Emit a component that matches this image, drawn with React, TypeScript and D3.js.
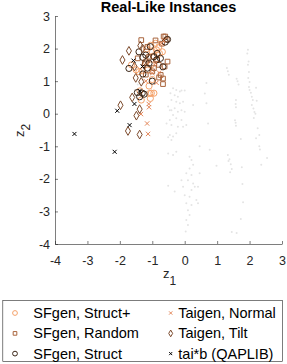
import * as d3 from "d3";
import { useEffect, useRef } from "react";

const W = 287;
const H = 364;

// background instances (light gray dots) [z1, z2]
const otherPts = [
  [1.95, 1.96], [1.93, 1.85], [1.97, 1.6], [1.95, 1.5], [1.98, 1.28], [1.96, 1.1], [2.0, 0.97],
  [1.98, 0.82], [2.0, 0.73], [2.04, 0.64], [2.07, 0.52], [2.1, 0.42], [2.07, 0.27], [2.12, 0.16],
  [2.15, 0.05], [2.13, -0.13], [2.2, -0.75], [2.25, -0.45], [2.3, -0.65], [2.3, -1.0], [2.32, -1.1],
  [2.54, -1.36], [2.36, -1.57], [1.3, 1.4], [1.33, 1.3], [1.36, 1.2], [1.6, 1.07], [1.63, 1.0],
  [1.66, 0.9], [1.58, 0.42], [1.57, 0.3], [1.58, 0.2], [1.55, -0.2], [1.57, -0.28], [1.58, -0.37],
  [1.73, -0.78], [1.33, -1.27], [1.38, -1.4], [1.42, -1.55], [1.45, -1.7], [1.4, -1.8], [1.76, -1.64],
  [1.78, -2.16], [1.8, -2.72], [1.73, -3.23], [1.45, -3.63], [1.6, -3.66], [0.98, -1.6], [0.77, -1.11],
  [0.72, -0.3], [0.46, -1.0], [0.67, 0.94], [0.62, 0.62], [0.67, 0.32], [0.26, 0.27], [0.0, 0.71],
  [-0.36, 0.78], [-0.26, 0.73], [-0.15, 0.68], [-0.1, 0.71], [-0.44, 0.63], [-0.31, 0.57], [-0.21, 0.52],
  [-0.41, 0.42], [-0.26, 0.37], [-0.15, 0.32], [-0.05, 0.37], [-0.51, 0.22], [-0.46, 0.11], [-0.31, 0.17],
  [-0.21, 0.06], [-0.1, 0.11], [0.0, 0.06], [-0.36, -0.04], [-0.26, -0.14], [-0.1, -0.19], [-0.46, -0.19],
  [-0.56, -0.3], [-0.41, -0.35], [-0.21, -0.4], [-0.05, -0.4], [0.05, -0.35], [-0.46, -0.65], [-0.51, -0.72],
  [-0.36, -0.7], [-0.26, -0.6], [-0.41, -0.81], [0.15, -1.32], [0.21, -1.42], [0.26, -1.57], [0.15, -1.68],
  [0.05, -1.83], [0.21, -1.88], [0.1, -2.04], [0.26, -2.14], [0.31, -2.24], [0.21, -2.34], [0.0, -2.5],
  [0.15, -2.55], [0.36, -2.65], [0.05, -2.75], [0.21, -2.8], [0.41, -2.75], [0.1, -2.96], [0.15, -3.11],
  [0.05, -3.26], [0.1, -3.42], [0.03, -3.62], [-0.05, -2.24], [0.46, -1.83], [0.41, -2.24], [-0.51, -1.22],
  [-0.36, -1.27], [-0.26, -1.17], [-0.51, -2.21], [-0.31, -2.39], [-0.1, -2.04], [-0.41, 0.11], [-1.54, 0.73],
  [-1.45, 0.9], [-1.5, 0.55], [2.2, 0.8], [2.22, 0.4], [2.18, 0.0], [1.35, -1.45],
];

const structPlus = [
  [-1.03, 0.63], [-0.95, 0.63], [-1.08, 0.62], [-1.06, 0.47], [-1.34, 0.42], [-1.41, 1.29],
  [-1.64, 1.5], [-1.5, 1.35], [-1.3, 1.32], [-0.9, 2.16], [-0.87, 1.96], [-1.0, 1.9], [-1.18, 1.99],
  [-1.03, 1.5], [-0.96, 1.77], [-0.69, 1.9], [-1.14, 1.34], [-0.8, 2.05], [-1.1, 0.85], [-1.0, 1.05],
  [-1.38, 0.7], [-0.78, 1.85], [-1.2, 1.6], [-1.05, 2.1],
];
const random = [
  [-1.34, 2.26], [-0.65, 2.37], [-0.6, 2.37], [-0.53, 1.6], [-0.67, 0.91], [-0.67, 1.08], [-0.79, 1.11],
  [-0.85, 1.67], [-1.23, 1.55], [-0.74, 1.19], [-0.55, 2.28], [-0.7, 2.15], [-0.95, 1.4], [-1.1, 1.75],
  [-0.8, 1.5], [-1.2, 1.2], [-0.9, 2.25], [-1.45, 1.7], [-0.62, 1.45], [-1.0, 1.3], [-1.15, 2.05],
];
const struct = [
  [-0.53, 2.28], [-1.06, 2.06], [-1.41, 1.9], [-1.72, 1.39], [-1.29, 1.73], [-0.87, 1.65], [-0.67, 1.44],
  [-1.29, 1.22], [-1.0, 1.0], [-1.46, 0.65], [-1.31, 0.63], [-1.39, 0.52], [-1.2, 1.8], [-0.95, 1.75],
  [-1.1, 1.55], [-0.85, 1.85], [-0.6, 2.2], [-1.25, 0.6], [-1.15, 1.4], [-0.75, 1.7],
];
const taigenNormal = [
  [-1.11, 0.3], [-1.1, 0.2], [-1.16, -0.3], [-1.13, -0.62], [-1.35, -0.01], [-0.79, 1.26],
  [-0.72, 2.16], [-0.87, 0.95], [-0.65, 2.25], [-1.0, 1.25], [-0.9, 1.55], [-1.2, 1.0],
];
const taigenTilt = [
  [-1.72, 1.93], [-1.92, 1.65], [-1.37, 2.09], [-1.51, 1.1], [-1.34, 0.98], [-1.62, 0.5], [-1.98, 0.26],
  [-1.39, 0.14], [-1.49, -0.06], [-1.75, -0.53], [-1.39, -0.64], [-1.55, 1.45], [-1.25, 1.5],
  [-1.1, 1.7], [-1.3, 2.0],
];
const taib = [
  [-3.4, -0.62], [-2.16, -1.17], [-1.7, -0.35], [-2.08, 0.09], [-1.55, 0.3], [-1.58, 1.63],
  [-1.39, 0.7], [-1.3, 1.45],
];

const ticks = [-4, -3, -2, -1, 0, 1, 2, 3];

const series = [
  { name: "SFgen, Struct+", data: structPlus, symbol: d3.symbolCircle, size: 30, color: "#f5a26a" },
  { name: "SFgen, Random", data: random, symbol: d3.symbolSquare, size: 22, color: "#a9643c" },
  { name: "SFgen, Struct", data: struct, symbol: d3.symbolCircle, size: 30, color: "#3a2516" },
  { name: "Taigen, Normal", data: taigenNormal, symbol: d3.symbolX, size: 14, color: "#e3875a" },
  { name: "Taigen, Tilt", data: taigenTilt, symbol: d3.symbolDiamond, size: 22, color: "#7c4a2c" },
  { name: "tai*b (QAPLIB)", data: taib, symbol: d3.symbolX, size: 12, color: "#000000" },
];

const font = "'Liberation Sans', Arial, Helvetica, sans-serif";

export default function App() {
  const xRef = useRef(null);
  const yRef = useRef(null);

  const x = d3.scaleLinear().domain([-4, 3]).range([55, 282]);
  const y = d3.scaleLinear().domain([-4, 3]).range([244, 16]);

  useEffect(() => {
    const xAxis = d3
      .axisBottom(x)
      .tickValues(ticks)
      .tickSizeInner(-3)
      .tickSizeOuter(0)
      .tickPadding(12)
      .tickFormat((d) => String(d));
    const yAxis = d3
      .axisLeft(y)
      .tickValues(ticks)
      .tickSizeInner(-3)
      .tickSizeOuter(0)
      .tickPadding(5)
      .tickFormat((d) => String(d));
    for (const [ref, ax] of [[xRef, xAxis], [yRef, yAxis]]) {
      const g = d3.select(ref.current);
      g.call(ax);
      g.attr("font-family", font).attr("font-size", 12.5);
      g.selectAll("path, line").attr("stroke", "#262626").attr("stroke-width", 0.6);
      g.selectAll("text").attr("fill", "#262626");
    }
  }, []);

  const legendRows = [318, 338.4, 358.6];

  return (
    <svg width={W} height={H} style={{ position: "absolute", left: 0, top: 0, background: "#fff" }}>
      <g>
        {otherPts.map((p, i) => (
          <circle key={i} cx={x(p[0])} cy={y(p[1])} r={1} fill="#e4e4e4" />
        ))}
      </g>
      {series.map((s) => (
        <g key={s.name}>
          {s.data.map((p, i) => (
            <path
              key={i}
              transform={`translate(${x(p[0])},${y(p[1])})`}
              d={d3.symbol(s.symbol, s.size)()}
              fill="none"
              stroke={s.color}
              strokeWidth={1}
            />
          ))}
        </g>
      ))}
      <g ref={xRef} transform="translate(0,244)" />
      <g ref={yRef} transform="translate(55,0)" />
      <text x={168.5} y={12} textAnchor="middle" fontFamily={font} fontSize={14.5} fontWeight="bold" fill="#000">
        Real-Like Instances
      </text>
      <text x={163} y={278} fontFamily={font} fontSize={13} fill="#262626">
        z<tspan dy={7} fontSize={12}>1</tspan>
      </text>
      <text transform="translate(24,137) rotate(-90)" fontFamily={font} fontSize={13} fill="#262626">
        z<tspan dy={6} fontSize={12}>2</tspan>
      </text>
      <rect x={2.8} y={300.5} width={279.7} height={61} fill="#fff" stroke="#262626" strokeWidth={0.6} />
      {series.map((s, i) => {
        const col = Math.floor(i / 3);
        const row = i % 3;
        const mx = col === 0 ? 15 : 170.7;
        const tx = col === 0 ? 33.3 : 178.3;
        const by = legendRows[row];
        return (
          <g key={s.name}>
            <path
              transform={`translate(${mx},${by - 5})`}
              d={d3.symbol(s.symbol, s.size * 0.6)()}
              fill="none"
              stroke={s.color}
              strokeWidth={1}
            />
            <text x={tx} y={by} fontFamily={font} fontSize={14.5} fill="#000">
              {s.name}
            </text>
          </g>
        );
      })}
    </svg>
  );
}
